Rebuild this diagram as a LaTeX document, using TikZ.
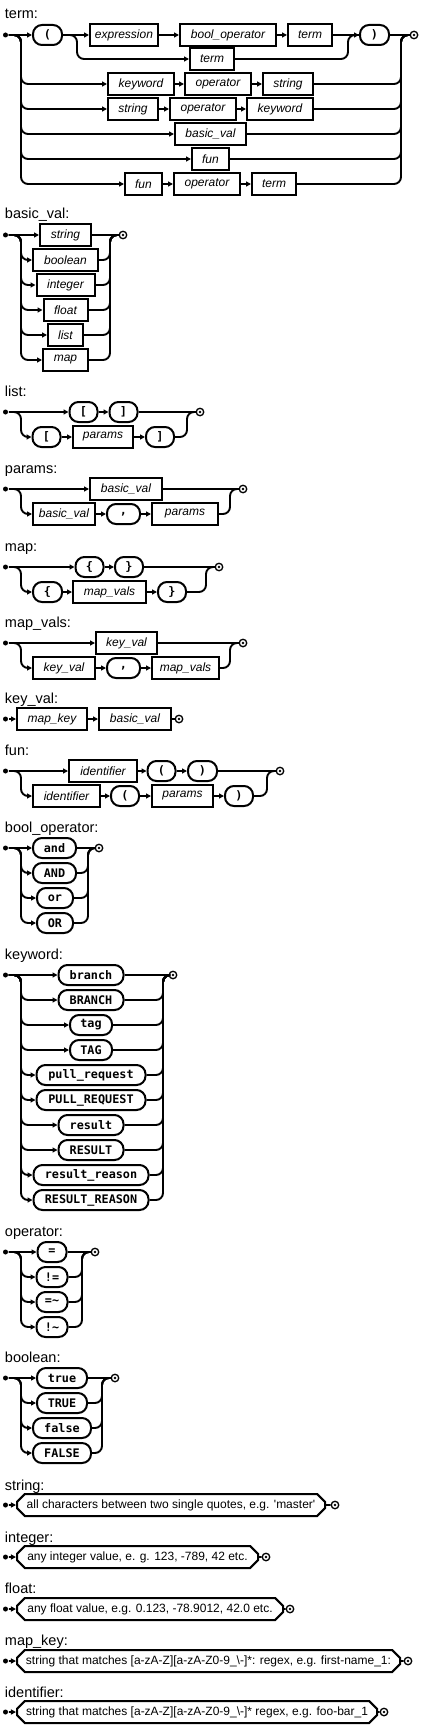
\documentclass[tikz,border=0pt]{standalone}
\usepackage{fontspec}
\setsansfont{Liberation Sans}
\setmonofont{DejaVu Sans Mono}
\usetikzlibrary{arrows.meta,shapes.misc}
\begin{document}
\begin{tikzpicture}[x=1pt, y=-1pt, line width=1.9pt, >={Triangle[length=5pt,width=5pt]},
  nt/.style={rectangle, draw, line width=2pt, minimum width=#1, minimum height=22pt, inner sep=0pt, font=\sffamily\itshape\fontsize{12}{14}\selectfont},
  tm/.style={rectangle, rounded corners=9pt, draw, line width=2pt, minimum width=#1, minimum height=20pt, inner sep=0pt, font=\ttfamily\bfseries\fontsize{11.8}{14}\selectfont},
  tx/.style={chamfered rectangle, chamfered rectangle xsep=5pt, draw, line width=2pt, minimum width=#1, minimum height=22pt, inner sep=0pt, font=\sffamily\fontsize{12}{14}\selectfont},
  ttl/.style={anchor=base west, inner sep=0pt, font=\sffamily\fontsize{14.5}{16}\selectfont},
  st/.style={circle, fill, inner sep=0pt, minimum size=5pt},
  en/.style={circle, draw, line width=1.3pt, inner sep=0pt, minimum size=7.5pt, path picture={\fill (path picture bounding box.center) circle (1.4pt);}},
  rc/.style={rounded corners=7pt}]
\useasboundingbox (0,0) rectangle (423,1728);

% term
\node[ttl] (tH) at (4,19) {term:};
\node[st] (tS) at (5.5,35) {};
\node[en] (tE) at (414,35) {};
\coordinate (tL) at (21,35);
\coordinate (tR) at (401,35);
\coordinate (tA) at (77,35);
\coordinate (tB) at (348,35);
\node[tm=29] (t1) at (47.5,35) {(};
\node[nt=68] (t2) at (124,35) {expression};
\node[nt=96] (t3) at (228,35) {bool\_operator};
\node[nt=44] (t4) at (310,35) {term};
\node[tm=29] (t5) at (374.5,35) {)};
\node[nt=44] (t6) at (212,59) {term};
\node[nt=66] (t7) at (141,84) {keyword};
\node[nt=66] (t8) at (218,84) {operator};
\node[nt=50] (t9) at (288,84) {string};
\node[nt=50] (t10) at (133,109) {string};
\node[nt=66] (t11) at (203,109) {operator};
\node[nt=66] (t12) at (280,109) {keyword};
\node[nt=71] (t13) at (210.5,134) {basic\_val};
\node[nt=37] (t14) at (210.5,159) {fun};
\node[nt=37] (t15) at (143.5,184) {fun};
\node[nt=66] (t16) at (207,184) {operator};
\node[nt=44] (t17) at (274,184) {term};
\draw[->] (tS) -- (t1);
\draw[->] (t1) -- (t2);
\draw[->] (t2) -- (t3);
\draw[->] (t3) -- (t4);
\draw[->] (t4) -- (t5);
\draw (t5) -- (tE);
\draw[->, rc] (t1) -- (tA) |- (t6);
\draw[rc] (t6) -| (tB) -- (t5);
\draw[->, rc] (tS) -- (tL) |- (t7);
\draw[->] (t7) -- (t8);
\draw[->] (t8) -- (t9);
\draw[->, rc] (tS) -- (tL) |- (t10);
\draw[->] (t10) -- (t11);
\draw[->] (t11) -- (t12);
\draw[->, rc] (tS) -- (tL) |- (t13);
\draw[->, rc] (tS) -- (tL) |- (t14);
\draw[->, rc] (tS) -- (tL) |- (t15);
\draw[->] (t15) -- (t16);
\draw[->] (t16) -- (t17);
\draw[rc] (t9) -| (tR) -- (tE);
\draw[rc] (t12) -| (tR) -- (tE);
\draw[rc] (t13) -| (tR) -- (tE);
\draw[rc] (t14) -| (tR) -- (tE);
\draw[rc] (t17) -| (tR) -- (tE);

% basic_val
\node[ttl] (bH) at (4,219) {basic\_val:};
\node[st] (bS) at (5.5,235) {};
\node[en] (bE) at (123,235) {};
\coordinate (bL) at (21,235);
\coordinate (bR) at (110,235);
\node[nt=51] (b1) at (65.5,235) {string};
\node[nt=65] (b2) at (65.5,260) {boolean};
\node[nt=58] (b3) at (65.5,285) {integer};
\node[nt=44] (b4) at (65.5,310) {float};
\node[nt=35] (b5) at (65.5,335) {list};
\node[nt=45] (b6) at (65.5,360) {map};
\draw[->] (bS) -- (b1);
\draw (b1) -- (bE);
\draw[->, rc] (bS) -- (bL) |- (b2);
\draw[->, rc] (bS) -- (bL) |- (b3);
\draw[->, rc] (bS) -- (bL) |- (b4);
\draw[->, rc] (bS) -- (bL) |- (b5);
\draw[->, rc] (bS) -- (bL) |- (b6);
\draw[rc] (b2) -| (bR) -- (bE);
\draw[rc] (b3) -| (bR) -- (bE);
\draw[rc] (b4) -| (bR) -- (bE);
\draw[rc] (b5) -| (bR) -- (bE);
\draw[rc] (b6) -| (bR) -- (bE);

% list
\node[ttl] (lH) at (4,396) {list:};
\node[st] (lS) at (5.5,412) {};
\node[en] (lE) at (200,412) {};
\coordinate (lL) at (21,412);
\coordinate (lR) at (187,412);
\node[tm=28] (l1) at (83.5,412) {[};
\node[tm=28] (l2) at (123.5,412) {]};
\node[tm=28] (l3) at (46.5,437) {[};
\node[nt=60] (l4) at (103,437) {params};
\node[tm=28] (l5) at (160,437) {]};
\draw[->] (lS) -- (l1);
\draw[->] (l1) -- (l2);
\draw (l2) -- (lE);
\draw[->, rc] (lS) -- (lL) |- (l3);
\draw[->] (l3) -- (l4);
\draw[->] (l4) -- (l5);
\draw[rc] (l5) -| (lR) -- (lE);

% params
\node[ttl] (pH) at (4,473) {params:};
\node[st] (pS) at (5.5,489) {};
\node[en] (pE) at (243,489) {};
\coordinate (pL) at (21,489);
\coordinate (pR) at (230,489);
\node[nt=72] (p1) at (126,489) {basic\_val};
\node[nt=62] (p2) at (64,514) {basic\_val};
\node[tm=33] (p3) at (123.5,514) {,};
\node[nt=66] (p4) at (185,514) {params};
\draw[->] (pS) -- (p1);
\draw (p1) -- (pE);
\draw[->, rc] (pS) -- (pL) |- (p2);
\draw[->] (p2) -- (p3);
\draw[->] (p3) -- (p4);
\draw[rc] (p4) -| (pR) -- (pE);

% map
\node[ttl] (mH) at (4,551) {map:};
\node[st] (mS) at (5.5,567) {};
\node[en] (mE) at (219,567) {};
\coordinate (mL) at (21,567);
\coordinate (mR) at (206,567);
\node[tm=28] (m1) at (89.5,567) {\{};
\node[tm=28] (m2) at (129,567) {\}};
\node[tm=29] (m3) at (47.5,592) {\{};
\node[nt=73] (m4) at (109.5,592) {map\_vals};
\node[tm=28] (m5) at (172,592) {\}};
\draw[->] (mS) -- (m1);
\draw[->] (m1) -- (m2);
\draw (m2) -- (mE);
\draw[->, rc] (mS) -- (mL) |- (m3);
\draw[->] (m3) -- (m4);
\draw[->] (m4) -- (m5);
\draw[rc] (m5) -| (mR) -- (mE);

% map_vals
\node[ttl] (vH) at (4,627) {map\_vals:};
\node[st] (vS) at (5.5,643) {};
\node[en] (vE) at (243,643) {};
\coordinate (vL) at (21,643);
\coordinate (vR) at (230,643);
\node[nt=61] (v1) at (126.5,643) {key\_val};
\node[nt=62] (v2) at (64,668) {key\_val};
\node[tm=33] (v3) at (123.5,668) {,};
\node[nt=67] (v4) at (185.5,668) {map\_vals};
\draw[->] (vS) -- (v1);
\draw (v1) -- (vE);
\draw[->, rc] (vS) -- (vL) |- (v2);
\draw[->] (v2) -- (v3);
\draw[->] (v3) -- (v4);
\draw[rc] (v4) -| (vR) -- (vE);

% key_val
\node[ttl] (kH) at (4,703) {key\_val:};
\node[st] (kS) at (5.5,719) {};
\node[en] (kE) at (179,719) {};
\node[nt=70] (k1) at (52,719) {map\_key};
\node[nt=72] (k2) at (135,719) {basic\_val};
\draw[->] (kS) -- (k1);
\draw[->] (k1) -- (k2);
\draw (k2) -- (kE);

% fun
\node[ttl] (fH) at (4,755) {fun:};
\node[st] (fS) at (5.5,771) {};
\node[en] (fE) at (280,771) {};
\coordinate (fL) at (21,771);
\coordinate (fR) at (267,771);
\node[nt=68] (f1) at (103,771) {identifier};
\node[tm=28] (f2) at (161.5,771) {(};
\node[tm=29] (f3) at (202.5,771) {)};
\node[nt=67] (f4) at (66.5,796) {identifier};
\node[tm=28] (f5) at (125,796) {(};
\node[nt=61] (f6) at (182.5,796) {params};
\node[tm=28] (f7) at (239,796) {)};
\draw[->] (fS) -- (f1);
\draw[->] (f1) -- (f2);
\draw[->] (f2) -- (f3);
\draw (f3) -- (fE);
\draw[->, rc] (fS) -- (fL) |- (f4);
\draw[->] (f4) -- (f5);
\draw[->] (f5) -- (f6);
\draw[->] (f6) -- (f7);
\draw[rc] (f7) -| (fR) -- (fE);

% bool_operator
\node[ttl] (oH) at (4,832) {bool\_operator:};
\node[st] (oS) at (5.5,848) {};
\node[en] (oE) at (99,848) {};
\coordinate (oL) at (21,848);
\coordinate (oR) at (88,848);
\node[tm=43] (o1) at (54.5,848) {and};
\node[tm=43] (o2) at (54.5,873) {AND};
\node[tm=36] (o3) at (55,898) {or};
\node[tm=36] (o4) at (55,923) {OR};
\draw[->] (oS) -- (o1);
\draw (o1) -- (oE);
\draw[->, rc] (oS) -- (oL) |- (o2);
\draw[->, rc] (oS) -- (oL) |- (o3);
\draw[->, rc] (oS) -- (oL) |- (o4);
\draw[rc] (o2) -| (oR) -- (oE);
\draw[rc] (o3) -| (oR) -- (oE);
\draw[rc] (o4) -| (oR) -- (oE);

% keyword
\node[ttl] (wH) at (4,959) {keyword:};
\node[st] (wS) at (5.5,975) {};
\node[en] (wE) at (173,975) {};
\coordinate (wL) at (21,975);
\coordinate (wR) at (163,975);
\node[tm=65] (w1) at (91,975) {branch};
\node[tm=65] (w2) at (91,1000) {BRANCH};
\node[tm=42] (w3) at (91,1025) {tag};
\node[tm=42] (w4) at (91,1050) {TAG};
\node[tm=109] (w5) at (91,1075) {pull\_request};
\node[tm=109] (w6) at (91,1100) {PULL\_REQUEST};
\node[tm=65] (w7) at (91,1125) {result};
\node[tm=65] (w8) at (91,1150) {RESULT};
\node[tm=115] (w9) at (91,1175) {result\_reason};
\node[tm=115] (w10) at (91,1200) {RESULT\_REASON};
\draw[->] (wS) -- (w1);
\draw (w1) -- (wE);
\draw[->, rc] (wS) -- (wL) |- (w2);
\draw[->, rc] (wS) -- (wL) |- (w3);
\draw[->, rc] (wS) -- (wL) |- (w4);
\draw[->, rc] (wS) -- (wL) |- (w5);
\draw[->, rc] (wS) -- (wL) |- (w6);
\draw[->, rc] (wS) -- (wL) |- (w7);
\draw[->, rc] (wS) -- (wL) |- (w8);
\draw[->, rc] (wS) -- (wL) |- (w9);
\draw[->, rc] (wS) -- (wL) |- (w10);
\draw[rc] (w2) -| (wR) -- (wE);
\draw[rc] (w3) -| (wR) -- (wE);
\draw[rc] (w4) -| (wR) -- (wE);
\draw[rc] (w5) -| (wR) -- (wE);
\draw[rc] (w6) -| (wR) -- (wE);
\draw[rc] (w7) -| (wR) -- (wE);
\draw[rc] (w8) -| (wR) -- (wE);
\draw[rc] (w9) -| (wR) -- (wE);
\draw[rc] (w10) -| (wR) -- (wE);

% operator
\node[ttl] (qH) at (4,1236) {operator:};
\node[st] (qS) at (5.5,1252) {};
\node[en] (qE) at (95,1252) {};
\coordinate (qL) at (21,1252);
\coordinate (qR) at (82,1252);
\node[tm=29] (q1) at (52,1252) {=};
\node[tm=31] (q2) at (52,1277) {!=};
\node[tm=31] (q3) at (52,1302) {=\textasciitilde};
\node[tm=31] (q4) at (52,1327) {!\textasciitilde};
\draw[->] (qS) -- (q1);
\draw (q1) -- (qE);
\draw[->, rc] (qS) -- (qL) |- (q2);
\draw[->, rc] (qS) -- (qL) |- (q3);
\draw[->, rc] (qS) -- (qL) |- (q4);
\draw[rc] (q2) -| (qR) -- (qE);
\draw[rc] (q3) -| (qR) -- (qE);
\draw[rc] (q4) -| (qR) -- (qE);

% boolean
\node[ttl] (nH) at (4,1362) {boolean:};
\node[st] (nS) at (5.5,1378) {};
\node[en] (nE) at (115,1378) {};
\coordinate (nL) at (21,1378);
\coordinate (nR) at (102,1378);
\node[tm=50] (n1) at (62,1378) {true};
\node[tm=50] (n2) at (62,1403) {TRUE};
\node[tm=58] (n3) at (62,1428) {false};
\node[tm=58] (n4) at (62,1453) {FALSE};
\draw[->] (nS) -- (n1);
\draw (n1) -- (nE);
\draw[->, rc] (nS) -- (nL) |- (n2);
\draw[->, rc] (nS) -- (nL) |- (n3);
\draw[->, rc] (nS) -- (nL) |- (n4);
\draw[rc] (n2) -| (nR) -- (nE);
\draw[rc] (n3) -| (nR) -- (nE);
\draw[rc] (n4) -| (nR) -- (nE);

% string, integer, float, map_key, identifier
\node[ttl] (sH) at (4,1490) {string:};
\node[st] (sS) at (5.5,1505) {};
\node[tx=308] (s1) at (171,1505) {all characters between two single quotes, e.g. \textquotesingle master\textquotesingle};
\node[en] (sE) at (335,1505) {};
\draw[->] (sS) -- (s1);
\draw (s1) -- (sE);

\node[ttl] (iH) at (4,1542) {integer:};
\node[st] (iS) at (5.5,1557) {};
\node[tx=241] (i1) at (137.5,1557) {any integer value, e. g. 123, -789, 42 etc.};
\node[en] (iE) at (266,1557) {};
\draw[->] (iS) -- (i1);
\draw (i1) -- (iE);

\node[ttl] (xH) at (4,1593) {float:};
\node[st] (xS) at (5.5,1609) {};
\node[tx=266] (x1) at (150,1609) {any float value, e.g. 0.123, -78.9012, 42.0 etc.};
\node[en] (xE) at (290,1609) {};
\draw[->] (xS) -- (x1);
\draw (x1) -- (xE);

\node[ttl] (yH) at (4,1645) {map\_key:};
\node[st] (yS) at (5.5,1661) {};
\node[tx=383] (y1) at (208.5,1661) {string that matches [a-zA-Z][a-zA-Z0-9\_\textbackslash-]*: regex, e.g. first-name\_1:};
\node[en] (yE) at (408,1661) {};
\draw[->] (yS) -- (y1);
\draw (y1) -- (yE);

\node[ttl] (zH) at (4,1697) {identifier:};
\node[st] (zS) at (5.5,1712) {};
\node[tx=360] (z1) at (197,1712) {string that matches [a-zA-Z][a-zA-Z0-9\_\textbackslash-]* regex, e.g. foo-bar\_1};
\node[en] (zE) at (384,1712) {};
\draw[->] (zS) -- (z1);
\draw (z1) -- (zE);

\end{tikzpicture}
\end{document}
